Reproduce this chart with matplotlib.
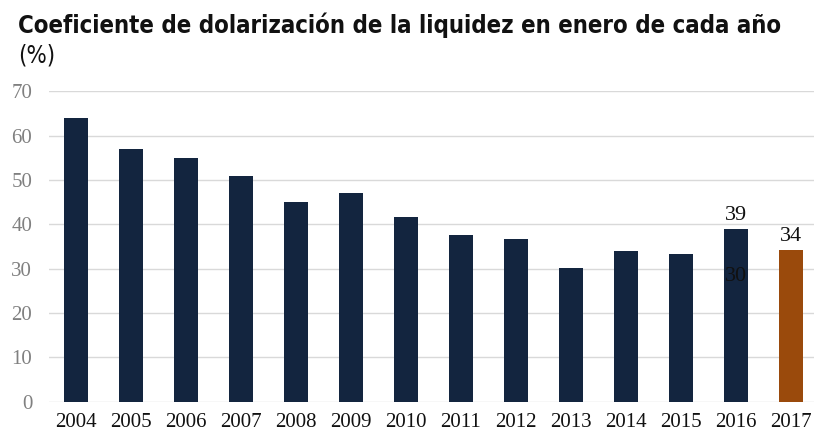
import matplotlib
matplotlib.use("Agg")
import matplotlib.pyplot as plt
from matplotlib import font_manager

years = ["2004", "2005", "2006", "2007", "2008", "2009", "2010",
         "2011", "2012", "2013", "2014", "2015", "2016", "2017"]
values = [64, 57, 55, 50.9, 45, 47, 41.6, 37.5, 36.6, 30.2, 34, 33.3, 38.9, 34.2]
colors = ["#13253f"] * 13 + ["#9a4a0c"]
labels = {12: "39", 13: "34"}

cond = [f.fname for f in font_manager.fontManager.ttflist
        if "Condensed" in f.fname and "DejaVuSans" in f.fname and "Bold" in f.fname
        and "Oblique" not in f.fname]
cond_reg = [f.fname for f in font_manager.fontManager.ttflist
            if f.fname.endswith("DejaVuSansCondensed.ttf")]
serif_font = "Liberation Serif"

fig = plt.figure(figsize=(8.14, 4.34), dpi=100)
ax = fig.add_axes([0.060, 0.074, 0.945, 0.716])

x = range(len(years))
ax.bar(x, values, width=0.44, color=colors, zorder=3)

for i, txt in labels.items():
    ax.text(i, values[i] + 1.0, txt, ha="center", va="bottom",
            fontsize=16, family=serif_font, color="#111111")
# stray label inside the 2016 bar, as in the source
ax.text(12, 28.2, "30", ha="center", va="center", fontsize=16,
        family=serif_font, color="#111111", zorder=4)

ax.set_xlim(-0.5, 13.5)
ax.set_ylim(0, 70)
ax.set_yticks(range(0, 71, 10))
ax.set_xticks(list(x))
ax.set_xticklabels(years, family=serif_font, fontsize=15, color="#111111")
for t in ax.get_yticklabels():
    t.set_family(serif_font)
    t.set_fontsize(15)
    t.set_color("#808080")
ax.tick_params(length=0, pad=8)
ax.tick_params(axis="y", pad=12)
ax.yaxis.grid(True, color="#d9d9d9", linewidth=1, zorder=0)
for s in ax.spines.values():
    s.set_visible(False)

title = "Coeficiente de dolarización de la liquidez en enero de cada año"
if cond:
    fp = font_manager.FontProperties(fname=cond[0], size=17.2)
    fp2 = font_manager.FontProperties(fname=cond_reg[0] if cond_reg else cond[0], size=17.2)
else:
    fp = font_manager.FontProperties(family="DejaVu Sans", weight="bold", size=15)
    fp2 = font_manager.FontProperties(family="DejaVu Sans", size=15)
fig.text(0.022, 0.925, title, fontproperties=fp, color="#111111")
fig.text(0.022, 0.855, "(%)", fontproperties=fp2, color="#111111")

plt.savefig("out.png", dpi=100)
